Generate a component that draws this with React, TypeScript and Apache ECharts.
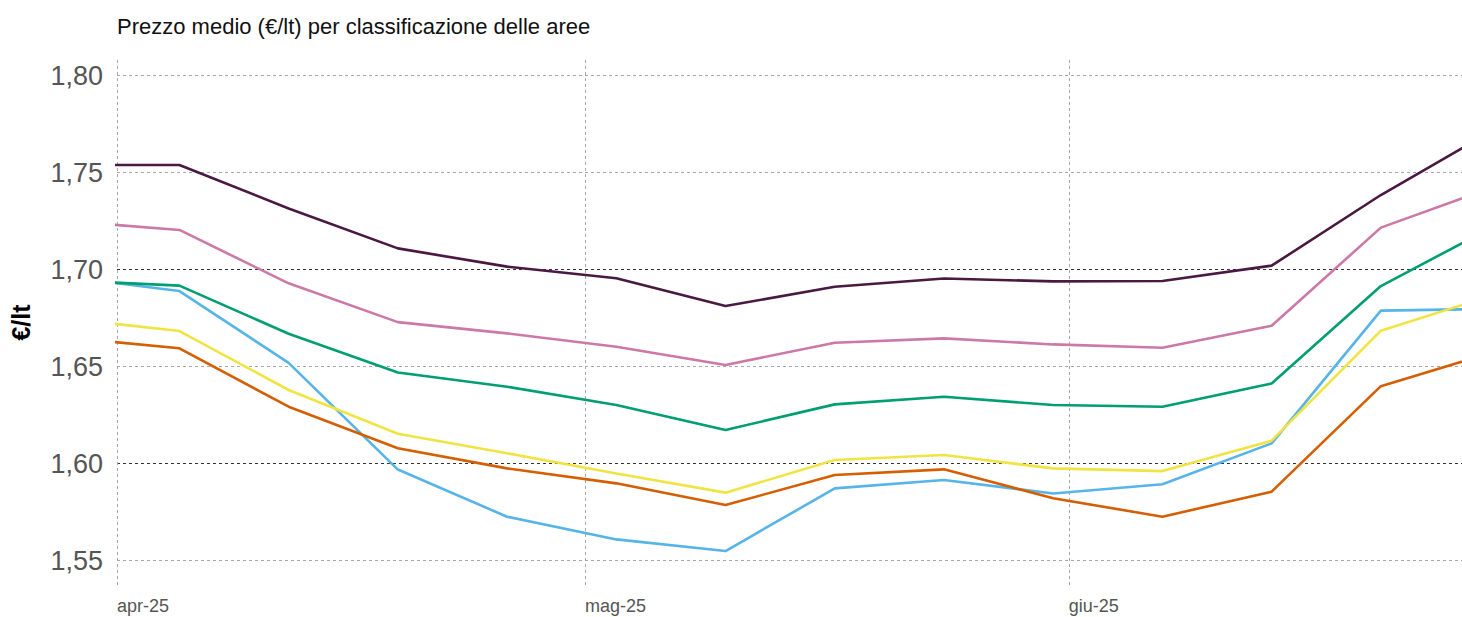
import React, { useEffect, useRef } from "react";
import * as echarts from "echarts";

const weeks = [
  "2025-03-29", "2025-04-05", "2025-04-12", "2025-04-19", "2025-04-26",
  "2025-05-03", "2025-05-10", "2025-05-17", "2025-05-24", "2025-05-31",
  "2025-06-07", "2025-06-14", "2025-06-21", "2025-06-28",
];

const monthNames = ["gen", "feb", "mar", "apr", "mag", "giu", "lug", "ago", "set", "ott", "nov", "dic"];

const areaA = [1.754, 1.754, 1.7316, 1.711, 1.7016, 1.6956, 1.6813, 1.6912, 1.6955, 1.694, 1.6942, 1.7021, 1.7385, 1.771];
const areaB = [1.7249, 1.7205, 1.693, 1.673, 1.6672, 1.6603, 1.6509, 1.6624, 1.6646, 1.6615, 1.6598, 1.6711, 1.7217, 1.742];
const areaC = [1.6944, 1.6918, 1.667, 1.647, 1.6397, 1.6303, 1.6174, 1.6306, 1.6345, 1.6303, 1.6294, 1.6414, 1.6916, 1.7213];
const areaD = [1.696, 1.689, 1.652, 1.597, 1.5727, 1.561, 1.555, 1.5873, 1.5916, 1.5847, 1.5894, 1.6105, 1.6789, 1.6798];
const areaE = [1.6747, 1.6684, 1.638, 1.6155, 1.6054, 1.595, 1.5851, 1.6019, 1.6045, 1.5976, 1.5962, 1.6119, 1.6686, 1.6864];
const areaF = [1.6649, 1.6595, 1.6294, 1.608, 1.5976, 1.5899, 1.5787, 1.5942, 1.5971, 1.5822, 1.5727, 1.5856, 1.64, 1.657];

const seriesDefs = [
  { name: "Area D", values: areaD, color: "#56b4e9" },
  { name: "Area F", values: areaF, color: "#d55e00" },
  { name: "Area E", values: areaE, color: "#f0e442" },
  { name: "Area C", values: areaC, color: "#009e73" },
  { name: "Area B", values: areaB, color: "#cc79a7" },
  { name: "Area A", values: areaA, color: "#4a1942" },
];

const xMinDate = "2025-04-01";
const xMaxDays = 86.2;
const yMin = 1.5375;
const yMax = 1.8081;

function toTime(s: string) {
  const [y, m, d] = s.split("-").map(Number);
  return new Date(y, m - 1, d).getTime();
}

export default function App() {
  const ref = useRef<HTMLDivElement>(null);
  useEffect(() => {
    if (!ref.current) return;
    const chart = echarts.init(ref.current, undefined, { renderer: "svg" });
    const xMin = toTime(xMinDate);
    const xMax = xMin + xMaxDays * 86400000;
    const font = "'Liberation Sans', Arial, sans-serif";
    const light = "#a8a8a8";
    const dark = "#333333";
    chart.setOption({
      animation: false,
      backgroundColor: "#ffffff",
      title: {
        text: "Prezzo medio (€/lt) per classificazione delle aree",
        left: 112,
        top: 10,
        textStyle: { fontSize: 22, fontWeight: "normal", color: "#111", fontFamily: font },
      },
      grid: { left: 117, right: 0, top: 60, bottom: 32, containLabel: false, outerBoundsMode: "none" },
      xAxis: {
        type: "time",
        min: xMin,
        max: xMax,
        splitNumber: 3,
        minInterval: 28 * 86400000,
        maxInterval: 31 * 86400000,
        axisLine: { show: false },
        axisTick: { show: false },
        axisLabel: {
          align: "left",
          color: "#555",
          fontSize: 18,
          fontFamily: font,
          margin: 12,
          formatter: (v: number) => {
            const d = new Date(v);
            return monthNames[d.getMonth()] + "-" + String(d.getFullYear()).slice(2);
          },
        },
        splitLine: { show: true, lineStyle: { color: light, type: [3, 3], width: 1 } },
      },
      yAxis: {
        type: "value",
        min: yMin,
        max: yMax,
        splitNumber: 5,
        name: "€/lt",
        nameLocation: "middle",
        nameGap: 84,
        nameTextStyle: { fontSize: 25, fontWeight: "bold", color: "#000", fontFamily: font },
        axisLine: { show: false },
        axisTick: { show: false },
        axisLabel: {
          color: "#555",
          fontSize: 27,
          fontFamily: font,
          margin: 14,
          showMinLabel: false,
          showMaxLabel: false,
          formatter: (v: number) => v.toFixed(2).replace(".", ","),
        },
        splitLine: {
          show: true,
          showMinLine: false,
          showMaxLine: false,
          lineStyle: {
            color: [light, dark, light, dark, light, light, light],
            type: [3, 3],
            width: 1,
          },
        },
      },
      series: seriesDefs.map((s) => ({
        name: s.name,
        type: "line",
        data: weeks.map((w, i) => [toTime(w), s.values[i]]),
        showSymbol: false,
        symbol: "none",
        clip: true,
        lineStyle: { color: s.color, width: 2.6 },
        itemStyle: { color: s.color },
      })),
    });
    return () => chart.dispose();
  }, []);
  return <div ref={ref} style={{ position: "absolute", left: 0, top: 0, width: 1462, height: 617 }} />;
}
